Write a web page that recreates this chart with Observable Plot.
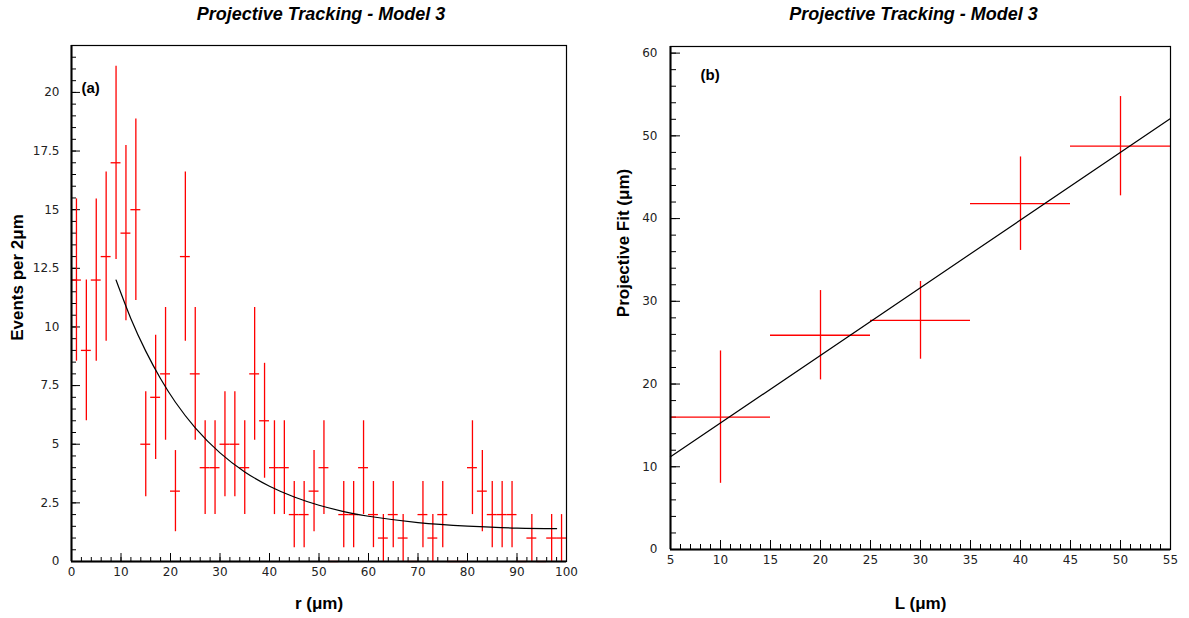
<!DOCTYPE html>
<html><head><meta charset="utf-8">
<script src="https://cdn.jsdelivr.net/npm/d3@7"></script>
<script src="https://cdn.jsdelivr.net/npm/@observablehq/plot@0.6"></script>
<style>
body{margin:0;background:#fff;overflow:hidden}
#wrap{position:relative;width:1189px;height:618px}
#pa{position:absolute;left:0;top:0}
#pb{position:absolute;left:600px;top:0}
svg{overflow:visible}
</style></head><body><div id="wrap"><div id="pa"></div><div id="pb"></div></div>
<script>
// ---- Panel (a): histogram, bins of 2 µm ----
const rCenters = [1,3,5,7,9,11,13,15,17,19,21,23,25,27,29,31,33,35,37,39,41,43,45,47,49,51,53,55,57,59,61,63,65,67,69,71,73,75,77,79,81,83,85,87,89,91,93,95,97,99];
const counts   = [12,9,12,13,17,14,15,5,7,8,3,13,8,4,4,5,5,4,8,6,4,4,2,2,3,4,0,2,2,4,2,1,2,1,0,2,1,2,0,0,4,3,2,2,2,0,1,0,1,1];
const countErr = [3.46,3,3.46,3.61,4.12,3.74,3.87,2.24,2.65,2.83,1.73,3.61,2.83,2,2,2.24,2.24,2,2.83,2.45,2,2,1.41,1.41,1.73,2,0,1.41,1.41,2,1.41,1,1.41,1,0,1.41,1,1.41,0,0,2,1.73,1.41,1.41,1.41,0,1,0,1,1];
const binHalf = 1;
const fitR   = [9,12,15,18,21,25,30,35,40,45,50,55,60,70,80,90,98];
const fitEvt = [12.0,10.35,8.97,7.79,6.79,5.70,4.63,3.82,3.21,2.75,2.40,2.13,1.93,1.66,1.51,1.42,1.40];
const aYTicks = [0,2.5,5,7.5,10,12.5,15,17.5,20];
const aXTicks = [0,10,20,30,40,50,60,70,80,90,100];

// ---- Panel (b): projective fit vs L ----
const lValues   = [10,20,30,40,50];
const lHalf     = [5,5,5,5,5];
const projFit   = [16.0,25.9,27.7,41.8,48.75];
const projErr   = [8.0,5.4,4.7,5.65,6.0];
const lineL     = [5,55];
const lineFit   = [11.2,52.1];
const bYTicks = [0,10,20,30,40,50,60];
const bXTicks = [5,10,15,20,25,30,35,40,45,50,55];

const title = "Projective Tracking - Model 3";
const RED = "#ff0000";
const tickFont = {fontFamily: "'DejaVu Sans', sans-serif", fontSize: 12, fill: "#222"};

const histo = rCenters.map((c, i) => ({c, lo: c - binHalf, hi: c + binHalf, v: counts[i], e0: counts[i] - countErr[i], e1: counts[i] + countErr[i]}));
const fitA = fitR.map((r, i) => ({r, v: fitEvt[i]}));
const pts = lValues.map((l, i) => ({l, lo: l - lHalf[i], hi: l + lHalf[i], v: projFit[i], e0: projFit[i] - projErr[i], e1: projFit[i] + projErr[i]}));
const lineB = lineL.map((l, i) => ({l, v: lineFit[i]}));

const fmt = d => String(d);
const common = {style: {fontFamily: "'Liberation Sans', Arial, sans-serif", background: "white", overflow: "visible"}};

// inward ticks: tick marks spanning the frame, inset down to the wanted length
function inTicksY(vals, len, fw) { return Plot.tickY(vals, {y: d => d, insetRight: fw - len, stroke: "black", strokeWidth: 1}); }
function inTicksX(vals, len, fh) { return Plot.tickX(vals, {x: d => d, insetTop: fh - len, stroke: "black", strokeWidth: 1}); }

const AW = 600, AH = 618, AL = 71, AR = 34, AT = 45, AB = 57;
const afw = AW - AL - AR, afh = AH - AT - AB;
const A = Plot.plot({
  ...common,
  width: AW, height: AH,
  marginLeft: AL, marginRight: AR, marginTop: AT, marginBottom: AB,
  x: {domain: [0, 100], axis: null},
  y: {domain: [0, 22], axis: null},
  marks: [
    inTicksY(d3.range(0, 22.01, 0.5), 5, afw),
    inTicksY(aYTicks, 9, afw),
    Plot.axisY(aYTicks, {tickSize: 0, tickPadding: 12, tickFormat: fmt, ...tickFont}),
    inTicksX(d3.range(0, 100.01, 2), 4, afh),
    inTicksX(aXTicks, 8, afh),
    Plot.axisX(aXTicks, {tickSize: 0, tickPadding: 6, tickFormat: fmt, ...tickFont}),
    Plot.ruleX(histo, {x: "c", y1: "e0", y2: "e1", stroke: RED, strokeWidth: 1.3}),
    Plot.ruleY(histo, {y: "v", x1: "lo", x2: "hi", stroke: RED, strokeWidth: 1.3}),
    Plot.line(fitA, {x: "r", y: "v", stroke: "black", strokeWidth: 1.2, curve: "natural"}),
    Plot.frame({stroke: "black", strokeWidth: 1.2}),
    Plot.ruleX([0], {stroke: "black", strokeWidth: 2}),
    Plot.ruleY([0], {stroke: "black", strokeWidth: 2}),
    Plot.text([title], {text: d => d, frameAnchor: "top", lineAnchor: "middle", dy: -31, dx: 2, fontSize: 18, fontWeight: "bold", fontStyle: "italic"}),
    Plot.text(["(a)"], {text: d => d, frameAnchor: "top-left", textAnchor: "start", lineAnchor: "middle", dx: 10, dy: 43, fontSize: 15, fontWeight: "bold"}),
    Plot.text(["Events per 2μm"], {text: d => d, frameAnchor: "left", textAnchor: "middle", lineAnchor: "middle", rotate: -90, dx: -54, dy: -26, fontSize: 17, fontWeight: "bold"}),
    Plot.text(["r (μm)"], {text: d => d, frameAnchor: "bottom", lineAnchor: "middle", dy: 42, fontSize: 17, fontWeight: "bold"})
  ]
});
document.getElementById("pa").append(A);

const BW = 589, BH = 618, BL = 70, BR = 19, BT = 46, BB = 69;
const bfw = BW - BL - BR, bfh = BH - BT - BB;
const B = Plot.plot({
  ...common,
  width: BW, height: BH,
  marginLeft: BL, marginRight: BR, marginTop: BT, marginBottom: BB,
  x: {domain: [5, 55], axis: null},
  y: {domain: [0, 60.8], axis: null},
  marks: [
    inTicksY(d3.range(0, 60.01, 2), 6, bfw),
    inTicksY(bYTicks, 10, bfw),
    Plot.axisY(bYTicks, {tickSize: 0, tickPadding: 13, tickFormat: fmt, ...tickFont}),
    inTicksX(d3.range(5, 55.01, 1), 5, bfh),
    inTicksX(bXTicks, 9, bfh),
    Plot.axisX(bXTicks, {tickSize: 0, tickPadding: 6, tickFormat: fmt, ...tickFont}),
    Plot.ruleX(pts, {x: "l", y1: "e0", y2: "e1", stroke: RED, strokeWidth: 1.3}),
    Plot.ruleY(pts, {y: "v", x1: "lo", x2: "hi", stroke: RED, strokeWidth: 1.3}),
    Plot.line(lineB, {x: "l", y: "v", stroke: "black", strokeWidth: 1.2}),
    Plot.frame({stroke: "black", strokeWidth: 1.2}),
    Plot.ruleX([5], {stroke: "black", strokeWidth: 2}),
    Plot.ruleY([0], {stroke: "black", strokeWidth: 2}),
    Plot.text([title], {text: d => d, frameAnchor: "top", lineAnchor: "middle", dy: -32, dx: -7, fontSize: 18, fontWeight: "bold", fontStyle: "italic"}),
    Plot.text(["(b)"], {text: d => d, frameAnchor: "top-left", textAnchor: "start", lineAnchor: "middle", dx: 30, dy: 29, fontSize: 15, fontWeight: "bold"}),
    Plot.text(["Projective Fit (μm)"], {text: d => d, frameAnchor: "left", textAnchor: "middle", lineAnchor: "middle", rotate: -90, dx: -47, dy: -55, fontSize: 17, fontWeight: "bold"}),
    Plot.text(["L (μm)"], {text: d => d, frameAnchor: "bottom", lineAnchor: "middle", dy: 54, fontSize: 17, fontWeight: "bold"})
  ]
});
document.getElementById("pb").append(B);
</script></body></html>
